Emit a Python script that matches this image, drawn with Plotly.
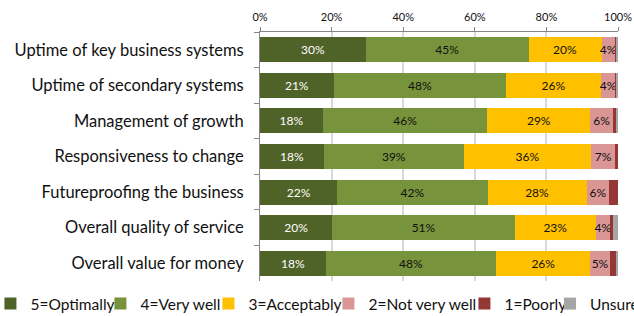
import plotly.graph_objects as go

categories = [
    "Uptime of key business systems",
    "Uptime of secondary systems",
    "Management of growth",
    "Responsiveness to change",
    "Futureproofing the business",
    "Overall quality of service",
    "Overall value for money",
]
optimally = [29.6, 20.6, 17.6, 17.9, 21.6, 20.2, 18.4]
very_well = [45.4, 48.2, 45.9, 39.0, 42.0, 51.0, 47.6]
acceptably = [20.4, 26.4, 28.8, 35.6, 27.6, 22.6, 26.3]
not_very_well = [3.8, 4.2, 6.3, 6.8, 6.4, 4.0, 5.4]
poorly = [0.5, 0.3, 0.8, 0.7, 2.4, 0.8, 1.9]
unsure = [0.3, 0.3, 0.6, 0.0, 0.0, 1.4, 0.4]

# name, values, colour, label colour, show labels, legend entry width, legend
series = [
    ("5=Optimally", optimally, "#4F6228", "white", True, 65, "legend"),
    ("4=Very well", very_well, "#77933C", "#111111", True, 63, "legend"),
    ("3=Acceptably", acceptably, "#FFC000", "#111111", True, 75, "legend"),
    ("2=Not very well", not_very_well, "#D99694", "#111111", True, 91, "legend"),
    ("1=Poorly", poorly, "#953735", "#111111", False, 72, "legend"),
    ("Unsure", unsure, "#A6A6A6", "#111111", False, 70, "legend2"),
]

FONT = "Lato"
fig = go.Figure()
for name, vals, color, tcol, show, lw, leg in series:
    fig.add_trace(go.Bar(
        name=name, y=categories, x=vals, orientation="h",
        marker=dict(color=color, line=dict(width=0)),
        text=[f"{round(v)}%" for v in vals] if show else None,
        textposition="inside" if show else "none",
        insidetextanchor="middle",
        textangle=0,
        constraintext="none",
        textfont=dict(family=FONT, size=12, color=tcol),
        hoverinfo="skip",
        legendwidth=lw,
        legend=leg,
    ))

legend_common = dict(orientation="h", xanchor="left", y=-0.0924, yanchor="middle",
                     font=dict(family=FONT, size=15.5, color="#111111"),
                     traceorder="normal", itemwidth=30, tracegroupgap=0,
                     borderwidth=0, bgcolor="rgba(0,0,0,0)")

fig.update_layout(
    barmode="stack",
    bargap=0.3,
    width=634, height=316,
    margin=dict(l=260, r=16, t=32, b=35, autoexpand=False),
    paper_bgcolor="white", plot_bgcolor="white",
    font=dict(family=FONT, size=13, color="#111111"),
    showlegend=True,
    legend=dict(x=-0.753, **legend_common),
    legend2=dict(x=0.810, **legend_common),
    xaxis=dict(side="top", range=[0, 100], tickvals=[0, 20, 40, 60, 80, 100],
               ticktext=["0%", "20%", "40%", "60%", "80%", "100%"],
               showgrid=True, gridcolor="#D9D9D9", gridwidth=1.5,
               showline=True, linecolor="#868686", linewidth=1,
               ticks="outside", ticklen=4, tickcolor="#868686",
               tickfont=dict(family=FONT, size=11, color="#111111"),
               ticklabelstandoff=2,
               zeroline=False, fixedrange=True),
    yaxis=dict(autorange="reversed", showline=True, linecolor="#868686", linewidth=1,
               ticks="outside", ticklen=5, tickcolor="#868686", tickson="boundaries",
               showgrid=False, ticklabelstandoff=12,
               tickfont=dict(family=FONT, size=16.5, color="#111111")),
)

fig.write_html("out.html", config={"displayModeBar": False},
               post_script="document.body.style.margin='0';")
